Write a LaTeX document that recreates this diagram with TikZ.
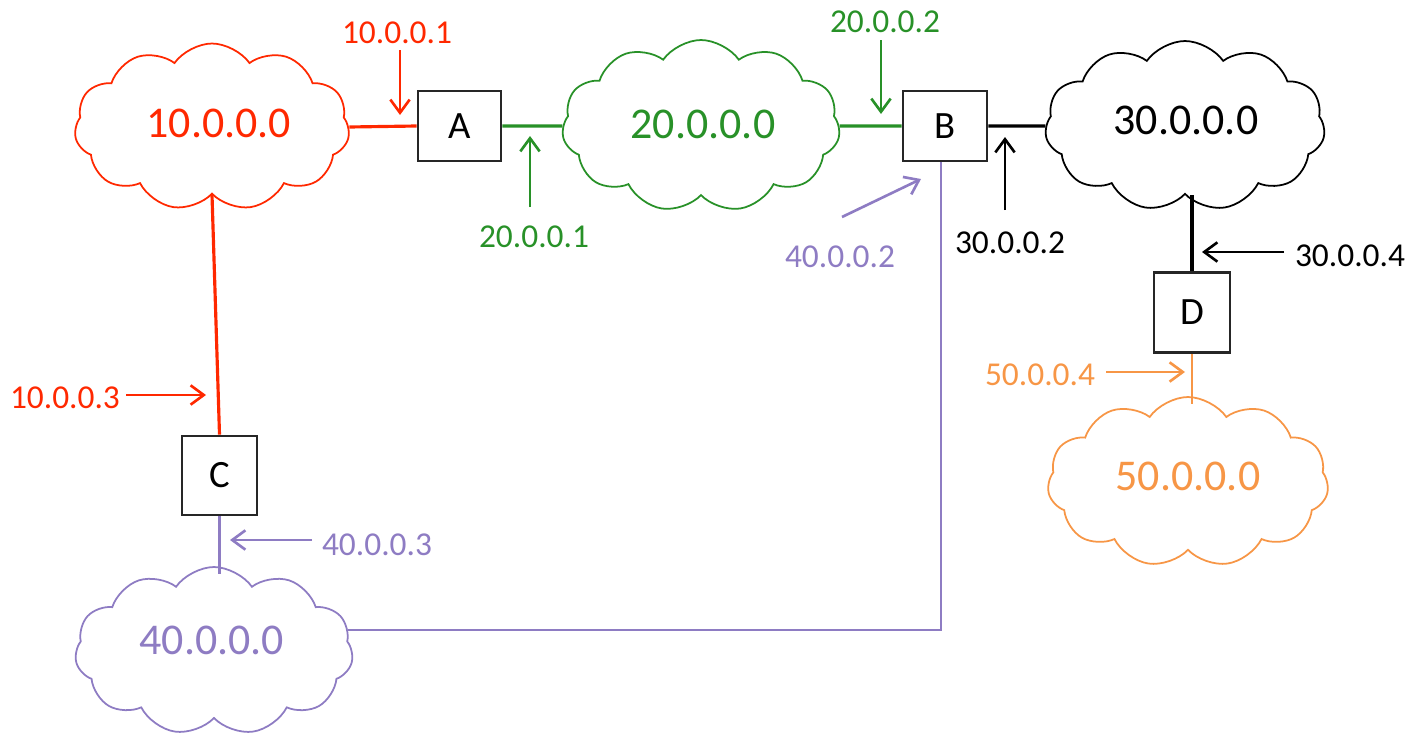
\documentclass[tikz,border=0pt]{standalone}
\usepackage{fontspec}
\setmainfont{Carlito}
\usetikzlibrary{shapes.symbols,arrows.meta,calc}
\definecolor{netred}{RGB}{255,40,0}
\definecolor{netgreen}{RGB}{40,145,40}
\definecolor{netpurple}{RGB}{142,124,195}
\definecolor{netorange}{RGB}{247,150,70}
\begin{document}
\begin{tikzpicture}[x=0.02cm,y=-0.02cm,
  net/.style={cloud, cloud puffs=11, cloud puff arc=110, aspect=1.65, draw, line width=1pt, inner sep=0pt, fill=white},
  netlbl/.style={font=\fontsize{25}{30}\selectfont, inner sep=0pt},
  router/.style={draw=black!85, line width=1.6pt, fill=white, font=\fontsize{22}{26}\selectfont, inner sep=0pt},
  lbl/.style={font=\fontsize{19}{23}\selectfont, inner sep=0pt},
  ptr/.style={-{Straight Barb[length=7.5pt,width=11pt]}, line width=1.5pt},
  link/.style={line width=1.8pt},
  thin link/.style={line width=1.4pt}]
\useasboundingbox (0,0) rectangle (1424,737);

% clouds
\node[net, draw=netred, minimum width=5.5cm, minimum height=3.34cm] (n10) at (212,127) {};
\node[netlbl, text=netred] (t10) at (219,123) {10.0.0.0};
\node[net, draw=netgreen, minimum width=5.56cm, minimum height=3.44cm] (n20) at (701,126) {};
\node[netlbl, text=netgreen] (t20) at (703,124) {20.0.0.0};
\node[net, draw=black, minimum width=5.6cm, minimum height=3.4cm] (n30) at (1185,126) {};
\node[netlbl, text=black] (t30) at (1186,120) {30.0.0.0};
\node[net, draw=netorange, minimum width=5.62cm, minimum height=3.4cm] (n50) at (1188,482) {};
\node[netlbl, text=netorange] (t50) at (1188,476) {50.0.0.0};
\node[net, draw=netpurple, minimum width=5.56cm, minimum height=3.36cm] (n40) at (214,651) {};
\node[netlbl, text=netpurple] (t40) at (212,640) {40.0.0.0};

% routers
\node[router, minimum width=1.66cm, minimum height=1.4cm] (A) at (459.5,126) {A};
\node[router, minimum width=1.68cm, minimum height=1.4cm] (B) at (945,126) {B};
\node[router, minimum width=1.5cm, minimum height=1.58cm] (C) at (219.5,475.5) {C};
\node[router, minimum width=1.52cm, minimum height=1.6cm] (D) at (1192,312.5) {D};

% links
\draw[link, netred] (n10.east) -- (A.west);
\draw[link, netred] (n10.south) -- (C.north);
\draw[link, netgreen] (A.east) -- (n20.west);
\draw[link, netgreen] (n20.east) -- (B.west);
\draw[link, black] (B.east) -- (n30.west);
\draw[link, black] (D.north) -- (D.north |- n30.south);
\draw[thin link, netorange] (D.south) -- ($(D.south |- n50.north)+(0,8)$);
\draw[thin link, netpurple] (C.south) -- ($(C.south |- n40.north)+(0,8)$);
\coordinate (Bp) at ($(B.south)+(-4,0)$);
\draw[thin link, netpurple] (n40.9) -| (Bp);

% address labels and pointers
\node[lbl, text=netred] (l1) at (397,33) {10.0.0.1};
\coordinate (p1s) at (400,50); \coordinate (p1e) at (400,115);
\draw[ptr, netred] (p1s) -- (p1e);

\node[lbl, text=netgreen] (l2) at (534,237) {20.0.0.1};
\coordinate (p2s) at (530,207); \coordinate (p2e) at (530,136);
\draw[ptr, netgreen] (p2s) -- (p2e);

\node[lbl, text=netgreen] (l3) at (885,22) {20.0.0.2};
\coordinate (p3s) at (881,40); \coordinate (p3e) at (881,114);
\draw[ptr, netgreen] (p3s) -- (p3e);

\node[lbl, text=netpurple] (l4) at (840,257) {40.0.0.2};
\coordinate (p4s) at (842,217); \coordinate (p4e) at (921,179);
\draw[ptr, netpurple] (p4s) -- (p4e);

\node[lbl, text=black] (l5) at (1010,243) {30.0.0.2};
\coordinate (p5s) at (1005,210); \coordinate (p5e) at (1005,137);
\draw[ptr, black] (p5s) -- (p5e);

\node[lbl, text=black] (l6) at (1350,256) {30.0.0.4};
\coordinate (p6s) at (1284,252); \coordinate (p6e) at (1202,252);
\draw[ptr, black] (p6s) -- (p6e);

\node[lbl, text=netred] (l7) at (65,398) {10.0.0.3};
\coordinate (p7s) at (126,395); \coordinate (p7e) at (206,395);
\draw[ptr, netred] (p7s) -- (p7e);

\node[lbl, text=netpurple] (l8) at (377,545) {40.0.0.3};
\coordinate (p8s) at (312,540); \coordinate (p8e) at (230,540);
\draw[ptr, netpurple] (p8s) -- (p8e);

\node[lbl, text=netorange] (l9) at (1040,375) {50.0.0.4};
\coordinate (p9s) at (1106,372); \coordinate (p9e) at (1185,372);
\draw[ptr, netorange] (p9s) -- (p9e);
\end{tikzpicture}
\end{document}
